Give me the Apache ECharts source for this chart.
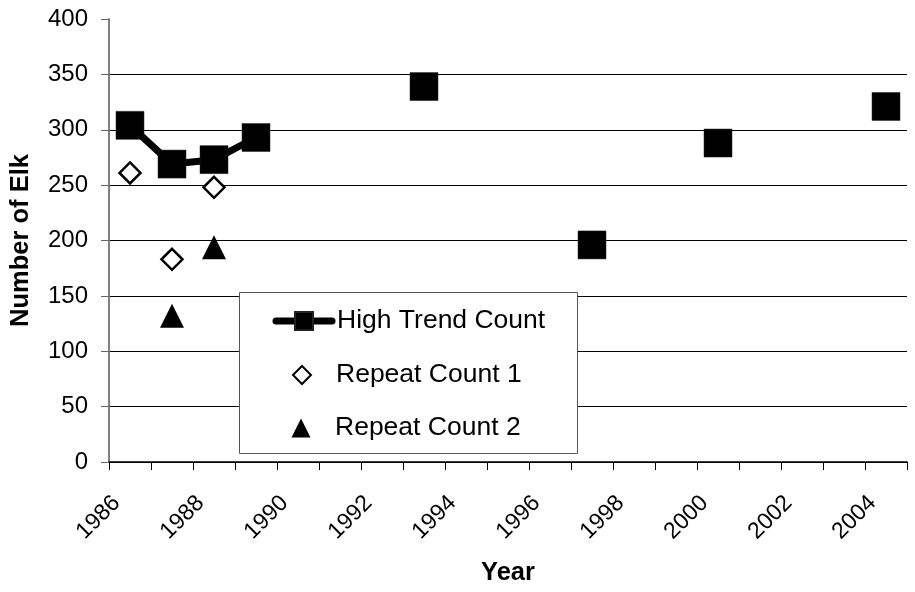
<!DOCTYPE html>
<html>
<head>
<meta charset="utf-8">
<title>Number of Elk by Year</title>
<script src="https://cdn.jsdelivr.net/npm/echarts@6/dist/echarts.min.js"></script>
<style>
  html, body { margin: 0; padding: 0; background: #fff; }
  #chart { width: 915px; height: 592px; }
</style>
</head>
<body>
<div id="chart"></div>
<script>
// Survey years shown on the category axis
const years = ['1986', '1987', '1988', '1989', '1990', '1991', '1992', '1993', '1994',
  '1995', '1996', '1997', '1998', '1999', '2000', '2001', '2002', '2003', '2004'];

// Elk counts per year (null = no survey that year)
const highTrendCount = [304, 269, 273, 293, null, null, null, 339, null,
  null, null, 196, null, null, 288, null, null, null, 321];
const repeatCount1 = [261, 183, 248, null, null, null, null, null, null,
  null, null, null, null, null, null, null, null, null, null];
const repeatCount2 = [null, 132, 194, null, null, null, null, null, null,
  null, null, null, null, null, null, null, null, null, null];

const seriesNames = ['High Trend Count', 'Repeat Count 1', 'Repeat Count 2'];

const yTicks = { min: 0, max: 400, interval: 50 };

const FONT = '"Liberation Sans", Arial, sans-serif';

const legendText = { fontFamily: FONT, fontSize: 26.5, lineHeight: 28, color: '#000' };

// One legend entry per component so each key can have its own icon box
function legendEntry(name, left, top, size, textPad, extra) {
  return Object.assign({
    orient: 'vertical',
    left: left,
    top: top,
    padding: 0,
    itemWidth: size[0],
    itemHeight: size[1],
    selectedMode: false,
    z: 6,
    textStyle: Object.assign({}, legendText, { padding: [0, 0, 0, textPad] }),
    data: [name]
  }, extra || {});
}

const chart = echarts.init(document.getElementById('chart'), null, { renderer: 'canvas' });

chart.setOption({
  animation: false,
  backgroundColor: '#ffffff',
  textStyle: { fontFamily: FONT, color: '#000' },
  grid: { left: 109, right: 8, top: 19, bottom: 130, containLabel: false },
  graphic: [
    {
      type: 'rect',
      z: 5,
      shape: { x: 239.5, y: 292.5, width: 338, height: 161 },
      style: { fill: '#ffffff', stroke: '#555', lineWidth: 1 }
    }
  ],
  legend: [
    legendEntry(seriesNames[0], 272.5, 307, [56, 22.5], 0, {
      lineStyle: { width: 7, cap: 'round', color: '#000' }
    }),
    legendEntry(seriesNames[1], 292, 361, [18, 18], 20),
    legendEntry(seriesNames[2], 291.5, 414, [19, 19], 19.5)
  ],
  xAxis: {
    type: 'category',
    data: years,
    boundaryGap: true,
    name: 'Year',
    nameLocation: 'middle',
    nameGap: 98,
    nameTextStyle: { fontFamily: FONT, fontSize: 25.5, fontWeight: 'bold', color: '#000' },
    axisLine: { show: true, lineStyle: { color: '#000', width: 1.5 } },
    axisTick: { show: true, interval: 0, length: 8, lineStyle: { color: '#000', width: 1 } },
    axisLabel: {
      interval: 1,
      rotate: 45,
      margin: 24,
      padding: [0, 19, 0, 0],
      fontFamily: FONT,
      fontSize: 23,
      color: '#000'
    },
    splitLine: { show: false }
  },
  yAxis: {
    type: 'value',
    min: yTicks.min,
    max: yTicks.max,
    interval: yTicks.interval,
    name: 'Number of Elk',
    nameLocation: 'middle',
    nameGap: 75,
    nameTextStyle: { fontFamily: FONT, fontSize: 25.5, fontWeight: 'bold', color: '#000' },
    axisLine: { show: true, lineStyle: { color: '#808080', width: 2 } },
    axisTick: { show: true, length: 8, lineStyle: { color: '#666', width: 1 } },
    axisLabel: { margin: 21, fontFamily: FONT, fontSize: 24, color: '#000' },
    splitLine: { show: true, showMaxLine: false, lineStyle: { color: '#000', width: 1 } }
  },
  series: [
    {
      name: seriesNames[0],
      type: 'line',
      data: highTrendCount,
      connectNulls: false,
      showSymbol: true,
      symbol: 'rect',
      symbolSize: 28,
      lineStyle: { color: '#000', width: 7 },
      itemStyle: { color: '#000', borderColor: '#222', borderWidth: 0.5 },
      z: 3
    },
    {
      name: seriesNames[1],
      type: 'scatter',
      data: repeatCount1,
      symbol: 'diamond',
      symbolSize: 21,
      itemStyle: { color: '#fff', borderColor: '#000', borderWidth: 2.5, opacity: 1 },
      z: 4
    },
    {
      name: seriesNames[2],
      type: 'scatter',
      data: repeatCount2,
      symbol: 'triangle',
      symbolSize: 24,
      itemStyle: { color: '#000', opacity: 1 },
      z: 4
    }
  ]
});
</script>
</body>
</html>
